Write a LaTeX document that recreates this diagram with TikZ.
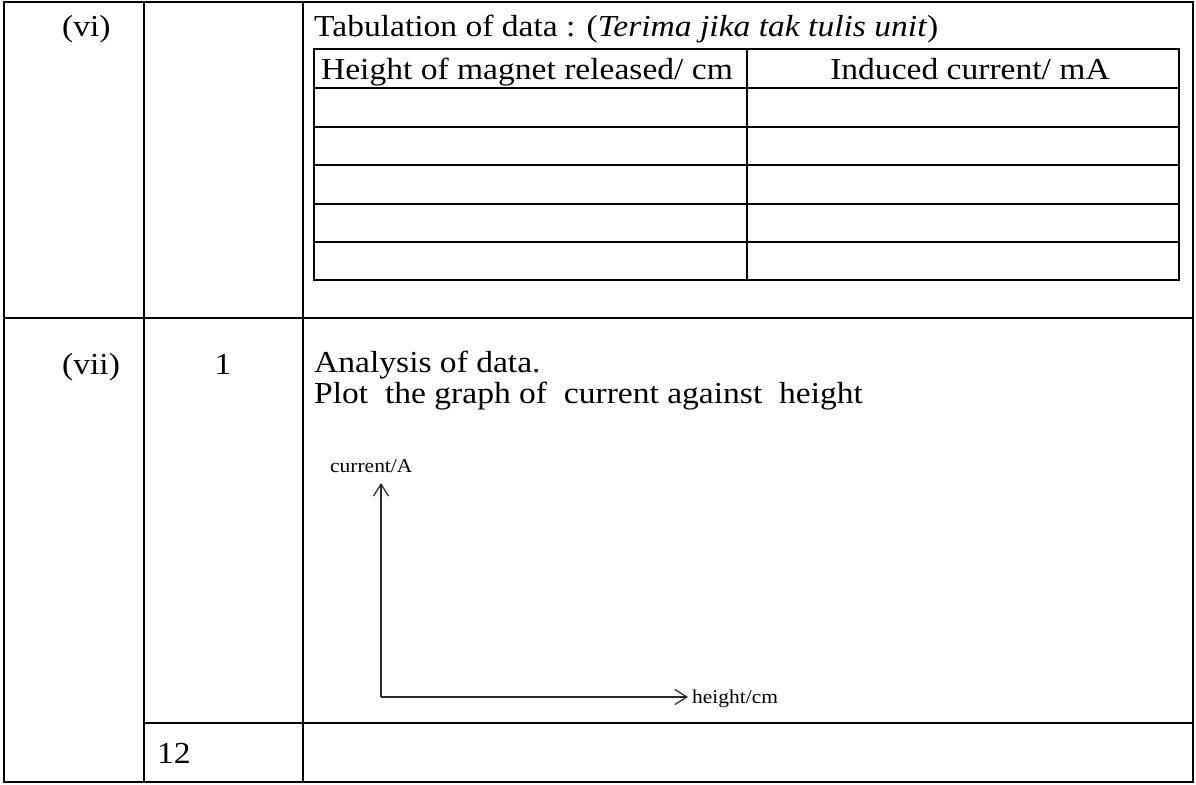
\documentclass[tikz,border=0pt]{standalone}
\usepackage{fontspec}
\setmainfont{Liberation Serif}[FakeStretch=1.1]
\usetikzlibrary{arrows.meta}
\begin{document}
\begin{tikzpicture}[x=1pt,y=-1pt,
  rule/.style={line width=2.6pt, line cap=rect},
  cell/.style={line width=2.4pt},
  body/.style={inner sep=0pt, font=\fontsize{30.5}{34}\selectfont},
  small/.style={inner sep=0pt, font=\fontsize{19.5}{23}\selectfont},
  axis/.style={line width=1.3pt, draw=black!85, -{Straight Barb[length=12pt,width=15pt,line width=1.2pt]}}]
\useasboundingbox (0,0) rectangle (1196,784);
% outer frame and column rules
\draw[rule] (4,2) rectangle (1193,782);
\draw[rule] (144,2) -- (144,782);
\draw[rule] (303,2) -- (303,782);
\draw[rule] (4,318) -- (1193,318);
\draw[rule] (144,723) -- (1193,723);
% data table
\draw[cell] (314,49) rectangle (1179,280);
\draw[cell] (747,49) -- (747,280);
\foreach \y in {88,127,165,204,242} \draw[cell] (314,\y) -- (1179,\y);
% row (vi)
\node[body, anchor=base west] (vi) at (62,37) {(vi)};
\node[body, anchor=base west] (tab) at (314,37) {Tabulation of data : (\textit{Terima jika tak tulis unit})};
\node[body, anchor=base] (h1) at (527,80) {Height of magnet released/ cm};
\node[body, anchor=base] (h2) at (970,80) {Induced current/ mA};
% row (vii)
\node[body, anchor=base west] (vii) at (62,374) {(vii)};
\node[body, anchor=base] (mark) at (223,374) {1};
\node[body, anchor=base west] (ana) at (314,372) {Analysis of data.};
\node[body, anchor=base west] (plot) at (314,403) {Plot\ \ the graph of\ \ current against\ \ height};
\node[body, anchor=base west] (total) at (157,763) {12};
% sketch axes
\coordinate (o) at (381,697);
\coordinate (ytip) at (381,483);
\coordinate (xtip) at (688,697);
\draw[axis] (o) -- (ytip);
\draw[axis] (o) -- (xtip);
\node[small, anchor=base west] (ylab) at (330,472) {current/A};
\node[small, anchor=west] (xlab) at (692,699) {height/cm};
\end{tikzpicture}
\end{document}
